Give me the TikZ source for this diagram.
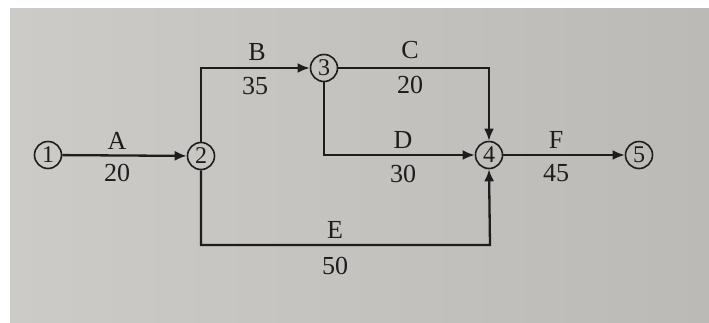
\documentclass[tikz,border=0pt]{standalone}
\usepackage{fontspec}
\setmainfont{Liberation Serif}
\usetikzlibrary{arrows.meta}
\definecolor{bgL}{RGB}{204,203,200}
\definecolor{bgR}{RGB}{188,186,183}
\definecolor{ink}{RGB}{30,28,28}
\begin{document}
\begin{tikzpicture}[x=1pt,y=-1pt,
  ev/.style={circle,draw=ink,line width=1.6pt,minimum size=27pt,inner sep=0pt,text=ink,font=\fontsize{24}{26}\selectfont},
  act/.style={draw=ink,line width=2.3pt,-{Latex[length=12pt,width=10pt]}},
  lbl/.style={text=ink,font=\fontsize{26}{28}\selectfont}]
\useasboundingbox (0,0) rectangle (709,322);
\fill[white] (0,0) rectangle (709,322);
\shade[left color=bgL,right color=bgR] (10,8) rectangle (709,322);
\node[ev] (n1) at (48,155) {1};
\node[ev] (n2) at (201,156) {2};
\node[ev] (n3) at (324,68) {3};
\node[ev] (n4) at (489,155) {4};
\node[ev] (n5) at (639,155) {5};
\coordinate (cB) at (201,68);
\coordinate (cC) at (489,68);
\coordinate (cE2) at (490,245);
\draw[act] (n1) -- (n2);
\draw[act] (n2.north) -- (cB) -- (n3);
\draw[act] (n3) -- (cC) -- (n4.north);
\draw[act] (n3.south) |- (n4.west);
\draw[act] (n2.south) |- (cE2) -- (n4.south);
\draw[act] (n4) -- (n5);
\node[lbl] (lA) at (117,141) {A};
\node[lbl] (tA) at (117,173) {20};
\node[lbl] (lB) at (257,52) {B};
\node[lbl] (tB) at (255,86) {35};
\node[lbl] (lC) at (410,50) {C};
\node[lbl] (tC) at (410,85) {20};
\node[lbl] (lD) at (403,140) {D};
\node[lbl] (tD) at (403,174) {30};
\node[lbl] (lE) at (335,230) {E};
\node[lbl] (tE) at (335,266) {50};
\node[lbl] (lF) at (556,140) {F};
\node[lbl] (tF) at (556,173) {45};
\end{tikzpicture}
\end{document}
